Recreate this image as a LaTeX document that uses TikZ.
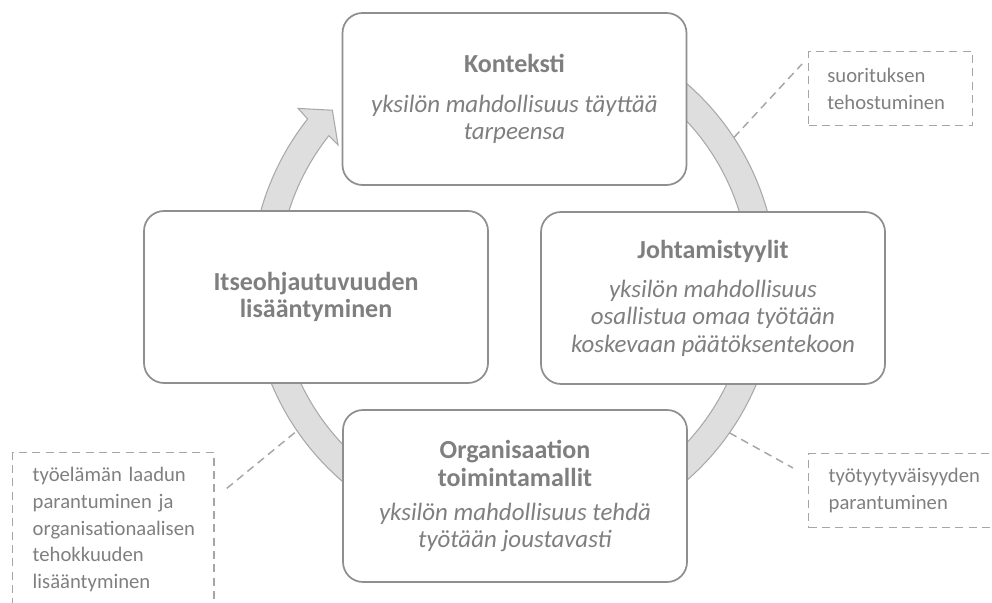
\documentclass[tikz,border=0pt]{standalone}
\usepackage{fontspec}
\setmainfont{Carlito}
\usetikzlibrary{calc}
\definecolor{BoxLine}{HTML}{8F8F8F}
\definecolor{BoxText}{HTML}{7F7F7F}
\definecolor{RingFill}{HTML}{DEDEDE}
\definecolor{RingLine}{HTML}{A9A9A9}
\definecolor{NoteLine}{HTML}{A6A6A6}
\newcommand{\boxtitle}[1]{{\fontsize{19.5}{20.5}\selectfont\bfseries #1}}

\begin{document}
\begin{tikzpicture}[x=0.75pt,y=0.75pt]
    \tikzset{box/.style={rounded corners=15pt,draw=BoxLine,line width=1.3pt,fill=white,
      minimum width=258pt,minimum height=129pt,align=center,text=BoxText,
      font=\fontsize{18.7}{20.5}\selectfont},
      note/.style={draw=NoteLine,dash pattern=on 6pt off 4pt,line width=1.1pt,text=BoxText,align=left,
      inner xsep=15pt,font=\fontsize{15.5}{20}\selectfont},
      link/.style={draw=NoteLine,dash pattern=on 6pt off 4pt,line width=1.1pt}}
    \useasboundingbox (0,0) rectangle (992,603);
    \clip (0,0) rectangle (992,603);
    \coordinate (c) at (514,321);
    % ring with arrow head
    \filldraw[fill=RingFill,draw=RingLine,line width=0.8pt]
      ($(c)+(110:263)$) arc[start angle=110,end angle=-218.3,radius=263]
      -- ($(c)+(141.2:277)$) -- ($(c)+(136.6:250)$) -- ($(c)+(142.1:223)$)
      -- ($(c)+(141.7:236)$) arc[start angle=-218.3,end angle=110,radius=236] -- cycle;
    \node[box] (k) at (514.5,504) {\boxtitle{Konteksti}\\[9pt]\textit{yksilön mahdollisuus täyttää}\\\textit{tarpeensa}};
    \node[box] (j) at (713,305) {\boxtitle{Johtamistyylit}\\[9pt]\textit{yksilön mahdollisuus}\\\textit{osallistua omaa työtään}\\\textit{koskevaan päätöksentekoon}};
    \node[box] (i) at (316,306) {\boxtitle{Itseohjautuvuuden}\\\boxtitle{lisääntyminen}};
    \node[box] (o) at (515,107) {\boxtitle{Organisaation}\\\boxtitle{toimintamallit}\\[5pt]\textit{yksilön mahdollisuus tehdä}\\\textit{työtään joustavasti}};
    % dashed notes
    \node[note,inner xsep=14pt,text width=95pt,minimum height=55.5pt,anchor=north west] (tr) at (808,552) {suorituksen\\tehostuminen};
    \node[note,text width=160pt,minimum height=55.5pt,anchor=north west] (br) at (808,150) {työtyytyväisyyden\\parantuminen};
    \node[note,text width=121pt,inner ysep=11pt,anchor=north west] (bl) at (12,151) {työelämän laadun\\parantuminen ja\\organisationaalisen\\tehokkuuden\\lisääntyminen\\\strut};
    \coordinate (ptr) at ($(c)+(33.3:263)$);
    \coordinate (pbr) at ($(c)+(-35:263)$);
    \coordinate (pbl) at ($(c)+(214.5:266)$);
    \draw[link] (ptr) -- ($(tr.north west)+(-6,-13)$);
    \draw[link] (pbr) -- ($(br.north west)+(-15,-15)$);
    \draw[link] (pbl) -- ($(bl.north east)+(10,-38)$);
\end{tikzpicture}
\end{document}
